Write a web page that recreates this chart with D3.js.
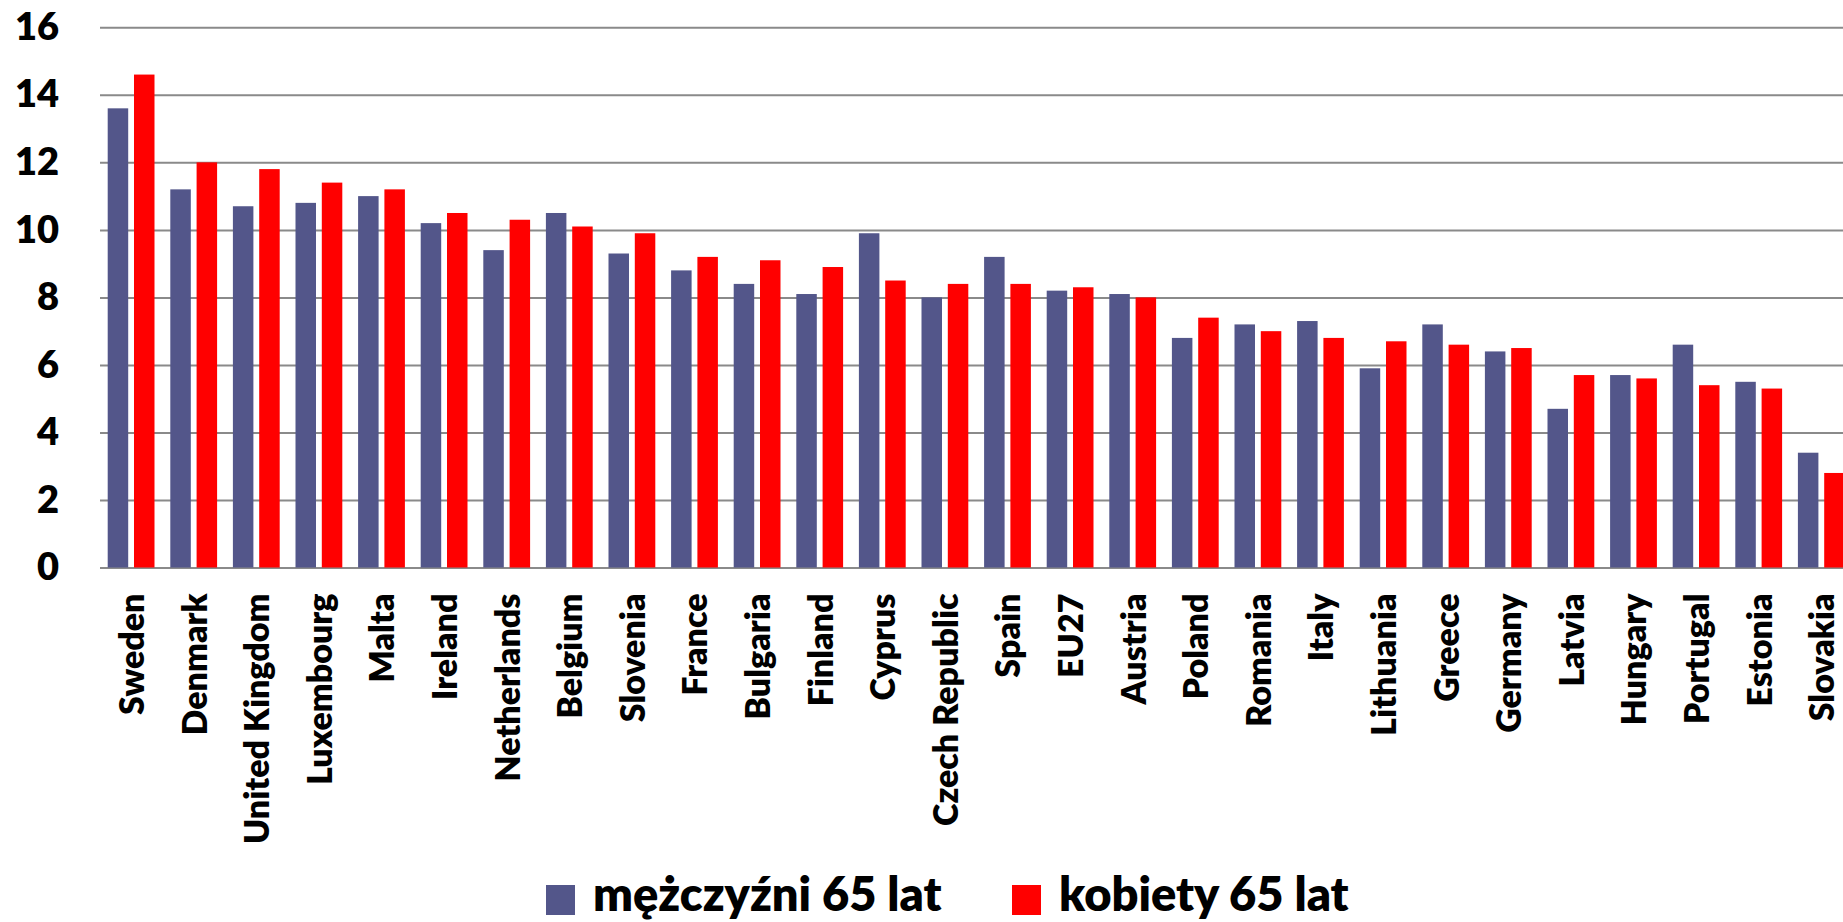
<!DOCTYPE html>
<html>
<head>
<meta charset="utf-8">
<script src="https://cdn.jsdelivr.net/npm/d3@7"></script>
<style>
  html, body { margin: 0; padding: 0; background: #ffffff; overflow: hidden; }
  svg { display: block; }
  text { font-family: Lato, "Open Sans", sans-serif; font-weight: 800; fill: #000; }
</style>
</head>
<body>
<svg id="chart" width="1843" height="922"></svg>
<script>
const categories = ["Sweden", "Denmark", "United Kingdom", "Luxembourg", "Malta", "Ireland", "Netherlands", "Belgium", "Slovenia", "France", "Bulgaria", "Finland", "Cyprus", "Czech Republic", "Spain", "EU27", "Austria", "Poland", "Romania", "Italy", "Lithuania", "Greece", "Germany", "Latvia", "Hungary", "Portugal", "Estonia", "Slovakia"];
const menValues = [13.6, 11.2, 10.7, 10.8, 11.0, 10.2, 9.4, 10.5, 9.3, 8.8, 8.4, 8.1, 9.9, 8.0, 9.2, 8.2, 8.1, 6.8, 7.2, 7.3, 5.9, 7.2, 6.4, 4.7, 5.7, 6.6, 5.5, 3.4];
const womenValues = [14.6, 12.0, 11.8, 11.4, 11.2, 10.5, 10.3, 10.1, 9.9, 9.2, 9.1, 8.9, 8.5, 8.4, 8.4, 8.3, 8.0, 7.4, 7.0, 6.8, 6.7, 6.6, 6.5, 5.7, 5.6, 5.4, 5.3, 2.8];
const seriesNames = ["mężczyźni 65 lat", "kobiety 65 lat"];
const seriesColors = ["#53568a", "#ff0000"];
const yTicks = [0, 2, 4, 6, 8, 10, 12, 14, 16];

const W = 1843, H = 922;
const plotLeft = 100, plotRight = 1843;
const svg = d3.select("#chart");

const y = d3.scaleLinear().domain([0, 16]).range([567.5, 27.3]);
const x = d3.scaleBand().domain(categories).range([plotLeft, 1852.4])
  .paddingInner(0.2524).paddingOuter(0.123);
const x1 = d3.scaleBand().domain(seriesNames).range([0, x.bandwidth()]).paddingInner(0.2205);

// gridlines + y labels
const yAxis = d3.axisLeft(y).tickValues(yTicks).tickSize(-(plotRight - plotLeft)).tickPadding(41);
const gy = svg.append("g").attr("transform", `translate(${plotLeft},0)`).call(yAxis);
gy.select(".domain").remove();
gy.selectAll(".tick line").attr("stroke", "#8a8a8a").attr("stroke-width", 2);
gy.selectAll(".tick text").attr("font-size", 38).attr("fill", "#000")
  .style("font-family", "Lato, 'Open Sans', sans-serif").style("font-weight", 800);

// bars
const table = categories.map((c, i) => ({ cat: c, vals: [menValues[i], womenValues[i]] }));
const groups = svg.append("g").selectAll("g").data(table).join("g")
  .attr("transform", d => `translate(${x(d.cat)},0)`);
groups.selectAll("rect").data(d => d.vals.map((v, j) => ({ v, j })))
  .join("rect")
  .attr("x", d => x1(seriesNames[d.j]))
  .attr("width", x1.bandwidth())
  .attr("y", d => y(d.v))
  .attr("height", d => y(0) - y(d.v))
  .attr("fill", d => seriesColors[d.j]);

// x labels
const xAxis = d3.axisBottom(x).tickSize(0).tickPadding(0);
const gx = svg.append("g").attr("transform", `translate(0,${y(0)})`).call(xAxis);
gx.select(".domain").remove();
gx.selectAll(".tick text")
  .attr("font-size", 34)
  .style("font-family", "Lato, 'Open Sans', sans-serif").style("font-weight", 800)
  .attr("fill", "#000")
  .attr("text-anchor", "end")
  .attr("transform", "translate(0,26) rotate(-90)")
  .attr("x", 0).attr("y", 0).attr("dy", "0.38em");

// legend
const legendX = [546, 1012];
const legend = svg.append("g");
seriesNames.forEach((name, i) => {
  legend.append("rect").attr("x", legendX[i]).attr("y", 885).attr("width", 29).attr("height", 30)
    .attr("fill", seriesColors[i]);
  legend.append("text").attr("x", legendX[i] + 47).attr("y", 911)
    .attr("font-size", 47).text(name);
});
</script>
</body>
</html>
